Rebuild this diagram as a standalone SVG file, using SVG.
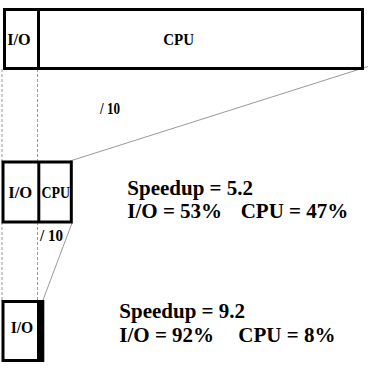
<svg xmlns="http://www.w3.org/2000/svg" width="370" height="368" viewBox="0 0 370 368">
<style>
.box{fill:#fff;stroke:#000;stroke-width:3}
.bar{fill:#000}
.dash{stroke:#999;stroke-width:1;stroke-dasharray:3,2;fill:none}
.thin{stroke:#999;stroke-width:1;fill:none}
.lbl{font-family:"Liberation Serif","Times New Roman",serif;font-weight:bold;font-size:16px;fill:#000}
.big{font-family:"Liberation Serif","Times New Roman",serif;font-weight:bold;font-size:21px;fill:#000}
</style>
<rect width="370" height="368" fill="#fff"/>
<g id="connectors">
<line class="dash" x1="2" y1="69" x2="2" y2="162"/>
<line class="dash" x1="37.5" y1="69" x2="37.5" y2="162"/>
<line class="dash" x1="2" y1="222" x2="2" y2="301"/>
<line class="dash" x1="37.5" y1="222" x2="37.5" y2="301"/>
<line class="thin" x1="368" y1="66.5" x2="70" y2="161"/>
<line class="thin" x1="72" y1="223" x2="43" y2="300"/>
</g>
<g id="top">
<rect class="box" x="4.5" y="9.5" width="358" height="59"/>
<line x1="38.5" y1="9.5" x2="38.5" y2="68.5" stroke="#000" stroke-width="3"/>
<text class="lbl" x="7.3" y="45" textLength="23.4" lengthAdjust="spacingAndGlyphs">I/O</text>
<text class="lbl" x="163.3" y="45" textLength="30.7" lengthAdjust="spacingAndGlyphs">CPU</text>
</g>
<g id="div1">
<text class="lbl" x="100" y="114.3" font-size="15" textLength="20" lengthAdjust="spacingAndGlyphs">/ 10</text>
</g>
<g id="middle">
<rect class="box" x="3" y="162" width="68.3" height="60"/>
<line x1="38.8" y1="162" x2="38.8" y2="222" stroke="#000" stroke-width="3"/>
<text class="lbl" x="8.3" y="198.3" textLength="24" lengthAdjust="spacingAndGlyphs">I/O</text>
<text class="lbl" x="41.5" y="198.3" textLength="28.5" lengthAdjust="spacingAndGlyphs">CPU</text>
</g>
<g id="div2">
<text class="lbl" x="40" y="240.7" textLength="23" lengthAdjust="spacingAndGlyphs">/ 10</text>
</g>
<g id="stats1">
<text class="big" x="127.3" y="195">Speedup = 5.2</text>
<text class="big" x="127.3" y="218.3">I/O = 53%</text>
<text class="big" x="240.7" y="218.3">CPU = 47%</text>
</g>
<g id="bottom">
<rect class="box" x="3" y="301.5" width="39.5" height="59"/>
<rect class="bar" x="37" y="300" width="7.3" height="62"/>
<text class="lbl" x="10.7" y="332.7" textLength="22.6" lengthAdjust="spacingAndGlyphs">I/O</text>
</g>
<g id="stats2">
<text class="big" x="119.3" y="318.3">Speedup = 9.2</text>
<text class="big" x="119.3" y="341.7">I/O = 92%</text>
<text class="big" x="238.3" y="341.7">CPU = 8%</text>
</g>
</svg>
